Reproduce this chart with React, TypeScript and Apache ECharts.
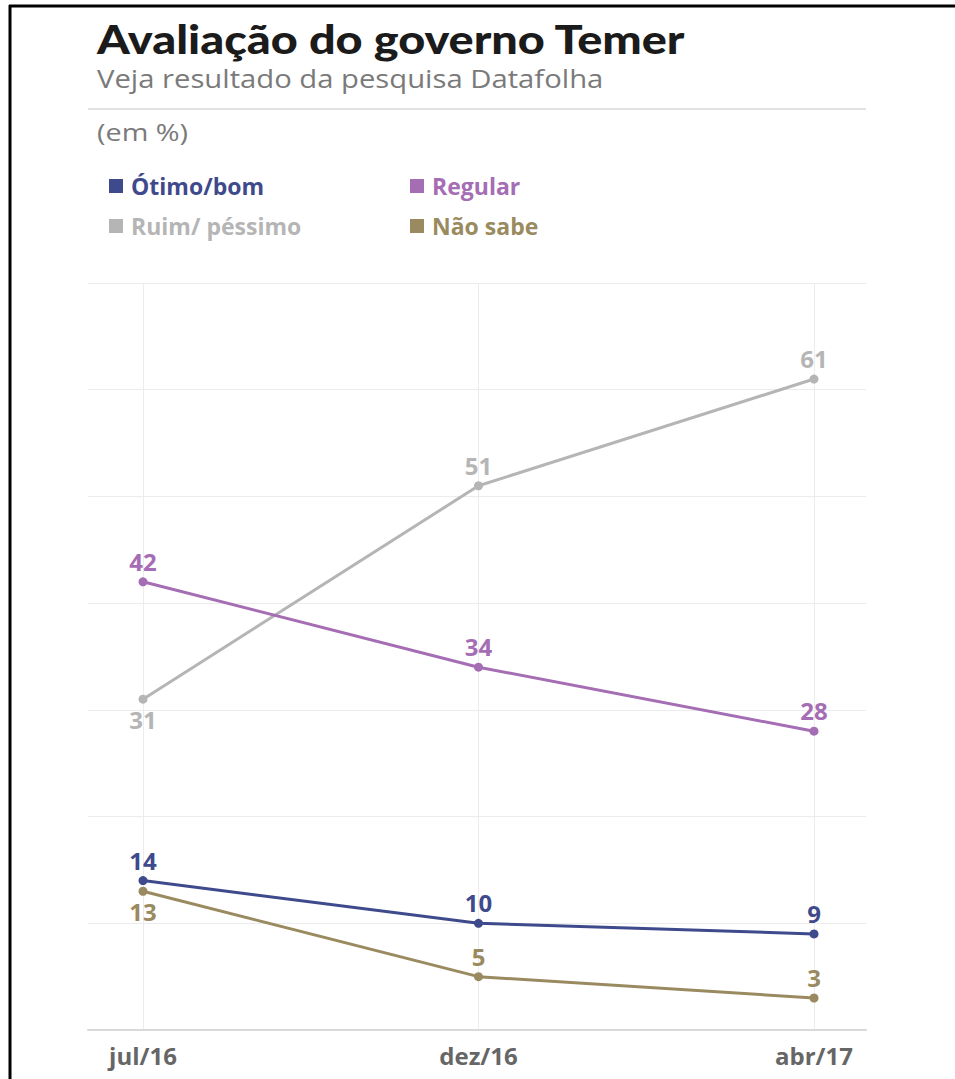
import React, { useEffect, useRef } from "react";
import * as echarts from "echarts";

const categories = ["jul/16", "dez/16", "abr/17"];
const otimoBom = [14, 10, 9];
const regular = [42, 34, 28];
const ruimPessimo = [31, 51, 61];
const naoSabe = [13, 5, 3];
const seriesNames = ["Ótimo/bom", "Regular", "Ruim/ péssimo", "Não sabe"];
const seriesColors = ["#3e4a8c", "#a56db3", "#b5b5b5", "#9a8a60"];
const yMin = 0;
const yMax = 70;
const yStep = 10;

const FONT = "'Open Sans', 'Noto Sans', sans-serif";

export default function App() {
  const ref = useRef<HTMLDivElement>(null);
  useEffect(() => {
    if (!ref.current) return;
    const chart = echarts.init(ref.current, null, { renderer: "svg" });
    const values = [otimoBom, regular, ruimPessimo, naoSabe];
    const belowFirst = [false, false, true, true];
    const legendPos = [
      { left: 109, top: 173 },
      { left: 410, top: 173 },
      { left: 109, top: 213 },
      { left: 410, top: 213 },
    ];
    const option: any = {
      animation: false,
      backgroundColor: "#ffffff",
      graphic: [
        { type: "line", shape: { x1: 10, y1: 5, x2: 10, y2: 1079 }, style: { stroke: "#000", lineWidth: 3 } },
        { type: "line", shape: { x1: 9, y1: 6, x2: 955, y2: 6 }, style: { stroke: "#000", lineWidth: 3 } },
        {
          type: "text",
          x: 97,
          y: 38,
          scaleX: 1.17,
          style: {
            text: "Avaliação do governo Temer",
            fontFamily: "Lato, 'Open Sans', sans-serif",
            fontWeight: 900,
            fontSize: 40,
            fill: "#1b1b1b",
            verticalAlign: "middle",
          },
        },
        {
          type: "text",
          x: 97,
          y: 78,
          scaleX: 1.17,
          style: {
            text: "Veja resultado da pesquisa Datafolha",
            fontFamily: FONT,
            fontSize: 25,
            fill: "#7a7a7a",
            verticalAlign: "middle",
          },
        },
        { type: "line", shape: { x1: 88, y1: 109, x2: 866, y2: 109 }, style: { stroke: "#e2e2e2", lineWidth: 2 } },
        {
          type: "text",
          x: 97,
          y: 132,
          scaleX: 1.2,
          style: {
            text: "(em %)",
            fontFamily: FONT,
            fontSize: 24,
            fill: "#7a7a7a",
            verticalAlign: "middle",
          },
        },
      ],
      legend: seriesNames.map((n, i) => ({
        data: [{ name: n, icon: "rect", textStyle: { color: seriesColors[i] } }],
        left: legendPos[i].left,
        top: legendPos[i].top,
        padding: 0,
        itemWidth: 14,
        itemHeight: 14,
        selectedMode: false,
        textStyle: { fontFamily: FONT, fontSize: 23, fontWeight: "bold", lineHeight: 26, padding: [0, 0, 0, 3] },
      })),
      grid: [
        { left: 88, right: 89, top: 283, bottom: 49 },
        { left: 143, right: 141, top: 283, bottom: 49 },
      ],
      xAxis: [
        {
          gridIndex: 0,
          type: "value",
          min: 0,
          max: 1,
          axisLine: { show: true, onZero: false, lineStyle: { color: "#d9d9d9", width: 2 } },
          axisTick: { show: false },
          axisLabel: { show: false },
          splitLine: { show: false },
        },
        {
          gridIndex: 1,
          type: "category",
          data: categories,
          boundaryGap: false,
          axisLine: { show: false },
          axisTick: { show: false },
          axisLabel: {
            fontFamily: FONT,
            fontSize: 24,
            fontWeight: "bold",
            color: "#666666",
            margin: 13,
          },
          splitLine: { show: true, lineStyle: { color: "#ececec", width: 1 } },
        },
      ],
      yAxis: [
        {
          gridIndex: 0,
          type: "value",
          min: yMin,
          max: yMax,
          interval: yStep,
          axisLine: { show: false },
          axisTick: { show: false },
          axisLabel: { show: false },
          splitLine: { show: true, lineStyle: { color: "#ececec", width: 1 } },
        },
        {
          gridIndex: 1,
          type: "value",
          min: yMin,
          max: yMax,
          interval: yStep,
          show: false,
          splitLine: { show: false },
        },
      ],
      series: seriesNames.map((n, i) => ({
        name: n,
        type: "line",
        xAxisIndex: 1,
        yAxisIndex: 1,
        color: seriesColors[i],
        symbol: "circle",
        symbolSize: 9,
        lineStyle: { width: 3, color: seriesColors[i] },
        itemStyle: { color: seriesColors[i] },
        z: i === 2 ? 2 : 3,
        label: {
          show: true,
          position: "top",
          distance: 4,
          fontFamily: FONT,
          fontSize: 24,
          fontWeight: "bold",
          color: seriesColors[i],
        },
        data: values[i].map((v, j) => ({
          value: v,
          label: { position: belowFirst[i] && j === 0 ? "bottom" : "top" },
        })),
      })),
    };
    chart.setOption(option);
    return () => chart.dispose();
  }, []);
  return (
    <div
      ref={ref}
      style={{ position: "fixed", left: 0, top: 0, width: 955, height: 1079, background: "#fff" }}
    />
  );
}
